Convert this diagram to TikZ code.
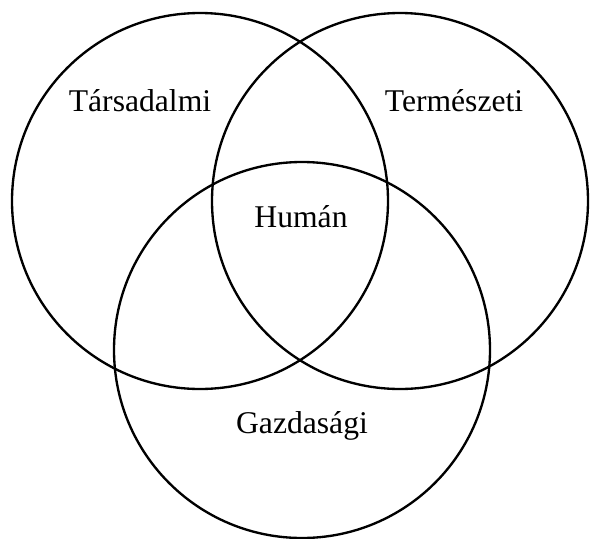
\documentclass[tikz,border=0pt]{standalone}
\usepackage{fontspec}
\setmainfont{Liberation Serif}
\usetikzlibrary{positioning}
\tikzset{
  ring/.style  = {draw=black, line width=2pt},
  label/.style = {anchor=base, inner sep=0pt,
                  font=\fontsize{27}{30}\selectfont},
}

\begin{document}
\begin{tikzpicture}[x=0.3mm, y=-0.3mm]
  \def\rad{188}

  % page frame
  \useasboundingbox (0,0) rectangle (590,539);

  % the three sets
  \draw[ring] (200,201) circle[radius=\rad];
  \draw[ring] (400,201) circle[radius=\rad];
  \draw[ring] (302,350) circle[radius=\rad];

  % labels
  \node[label] (tars)  at (140,111) {Társadalmi};
  \node[label] (term)  at (454,111) {Természeti};
  \node[label] (human) at (301,227) {Humán};
  \node[label] (gazd)  at (302,433) {Gazdasági};
\end{tikzpicture}
\end{document}
